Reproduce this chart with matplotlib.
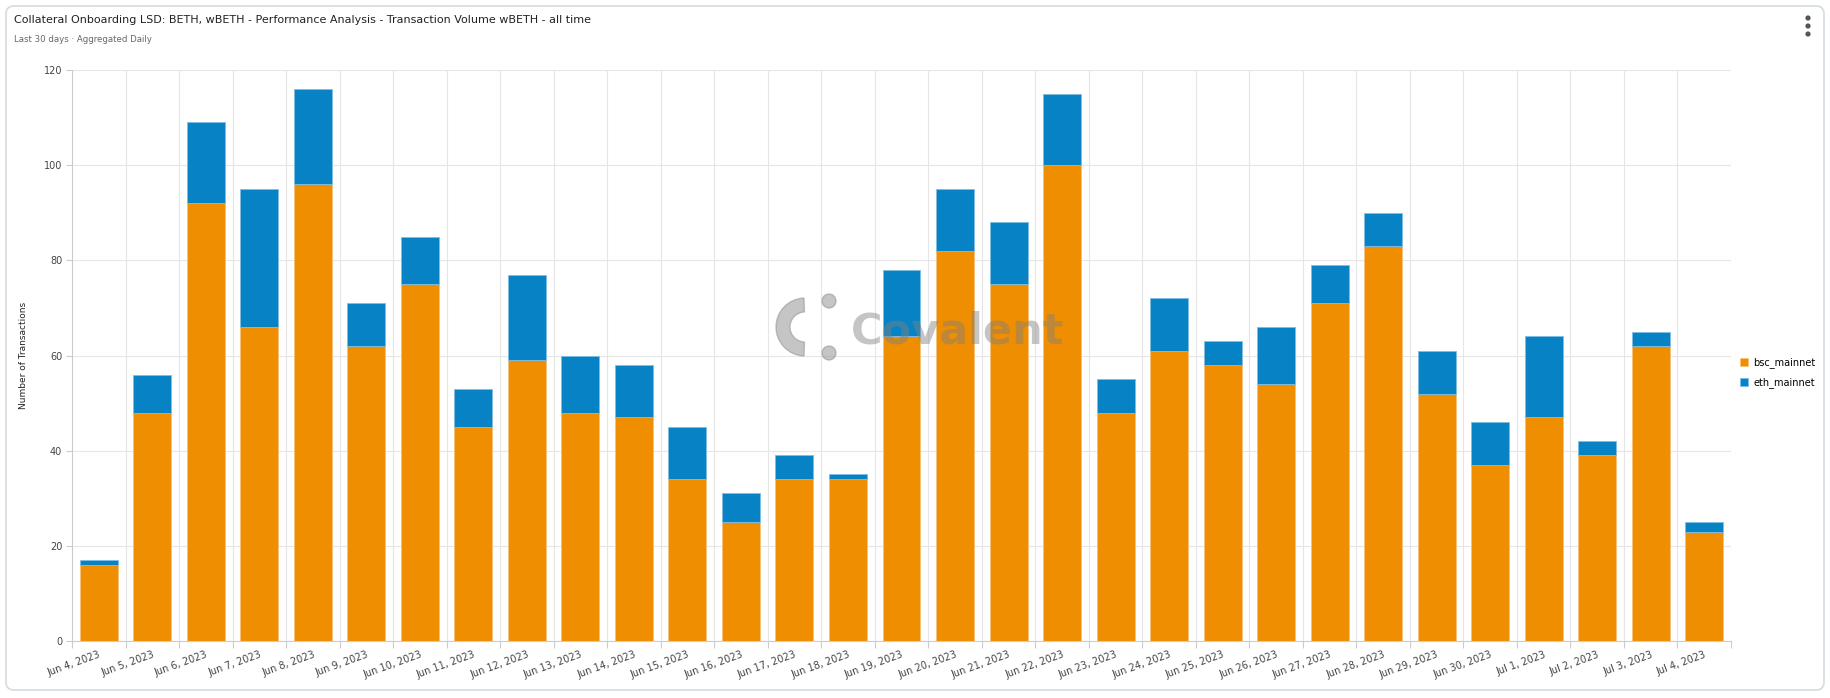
import matplotlib.pyplot as plt
from matplotlib.patches import FancyBboxPatch, Wedge, Circle
import numpy as np

# daily transaction counts
dates = ["Jun 4, 2023", "Jun 5, 2023", "Jun 6, 2023", "Jun 7, 2023", "Jun 8, 2023",
         "Jun 9, 2023", "Jun 10, 2023", "Jun 11, 2023", "Jun 12, 2023", "Jun 13, 2023",
         "Jun 14, 2023", "Jun 15, 2023", "Jun 16, 2023", "Jun 17, 2023", "Jun 18, 2023",
         "Jun 19, 2023", "Jun 20, 2023", "Jun 21, 2023", "Jun 22, 2023", "Jun 23, 2023",
         "Jun 24, 2023", "Jun 25, 2023", "Jun 26, 2023", "Jun 27, 2023", "Jun 28, 2023",
         "Jun 29, 2023", "Jun 30, 2023", "Jul 1, 2023", "Jul 2, 2023", "Jul 3, 2023",
         "Jul 4, 2023"]
bsc_mainnet = [16, 48, 92, 66, 96, 62, 75, 45, 59, 48, 47, 34, 25, 34, 34, 64,
               82, 75, 100, 48, 61, 58, 54, 71, 83, 52, 37, 47, 39, 62, 23]
eth_mainnet = [1, 8, 17, 29, 20, 9, 10, 8, 18, 12, 11, 11, 6, 5, 1, 14,
               13, 13, 15, 7, 11, 5, 12, 8, 7, 9, 9, 17, 3, 3, 2]
y_ticks = [0, 20, 40, 60, 80, 100, 120]

orange = "#EF8E00"
blue = "#0782C4"

W, H = 1831, 698
fig = plt.figure(figsize=(W / 100, H / 100), dpi=100)

# background layer in pixel coords (card + title)
bg = fig.add_axes([0, 0, 1, 1], zorder=0)
bg.set_xlim(0, W)
bg.set_ylim(H, 0)
bg.axis("off")
bg.add_patch(FancyBboxPatch((6, 6), W - 13, H - 14, boxstyle="round,pad=0,rounding_size=8",
                            facecolor="white", edgecolor="#d3dce1", linewidth=1.2))
bg.text(14, 20, "Collateral Onboarding LSD: BETH, wBETH - Performance Analysis - "
        "Transaction Volume wBETH - all time", fontsize=8, color="#222222", va="center")
bg.text(14, 40, "Last 30 days \u00b7 Aggregated Daily", fontsize=6.2, color="#666666",
        va="center")
for yy in (18, 26, 34):
    bg.add_patch(Circle((1808, yy), 1.9, color="#555555"))

ax = fig.add_axes([72 / W, 1 - 641 / H, (1731 - 72) / W, (641 - 70) / H], zorder=1)
ax.patch.set_alpha(0)
x = np.arange(len(dates))
ax.bar(x, bsc_mainnet, width=0.71, color=orange, edgecolor="#f6c27a", linewidth=0.6,
       label="bsc_mainnet", zorder=2)
ax.bar(x, eth_mainnet, bottom=bsc_mainnet, width=0.71, color=blue, edgecolor="#7fbde3",
       linewidth=0.6, label="eth_mainnet", zorder=2)

ax.set_xlim(-0.5, len(dates) - 0.5)
ax.set_ylim(0, 120)
ax.set_yticks(y_ticks)
ax.tick_params(axis="y", labelsize=7, colors="#444444", length=4, color="#cccccc", pad=3)

# boundaries carry grid and ticks, centres carry labels
ax.set_xticks(np.arange(len(dates) + 1) - 0.5)
ax.set_xticklabels([])
ax.tick_params(axis="x", which="major", length=5, color="#cccccc")
ax.set_xticks(x, minor=True)
ax.set_xticklabels(dates, minor=True, rotation=20, ha="right", rotation_mode="anchor",
                   fontsize=7, color="#444444")
ax.tick_params(axis="x", which="minor", length=0, pad=6)

ax.grid(True, which="major", color="#e6e6e6", linewidth=0.8, zorder=0)
ax.set_axisbelow(True)
for s in ("top", "right"):
    ax.spines[s].set_visible(False)
for s in ("left", "bottom"):
    ax.spines[s].set_color("#cccccc")

ax.set_ylabel("Number of Transactions", fontsize=6.5, color="#222222", labelpad=11)

ax.legend(loc="center left", bbox_to_anchor=(1.0, 0.47), frameon=False, fontsize=7,
          handlelength=0.9, handleheight=0.9, handletextpad=0.5, labelspacing=0.9)

# Covalent watermark on top
wm = fig.add_axes([0, 0, 1, 1], zorder=3)
wm.set_xlim(0, W)
wm.set_ylim(H, 0)
wm.axis("off")
wm.patch.set_alpha(0)
grey = "#8c8c8c"
wm.add_patch(Wedge((805, 327), 29, 92, 268, width=14, color=grey, alpha=0.5))
wm.add_patch(Circle((829, 301), 7, color=grey, alpha=0.5))
wm.add_patch(Circle((829, 353), 7, color=grey, alpha=0.5))
wm.text(851, 343, "Covalent", fontsize=31, fontweight="bold", color="#808080",
        alpha=0.45, va="baseline")

fig.savefig("out.png", dpi=100)
